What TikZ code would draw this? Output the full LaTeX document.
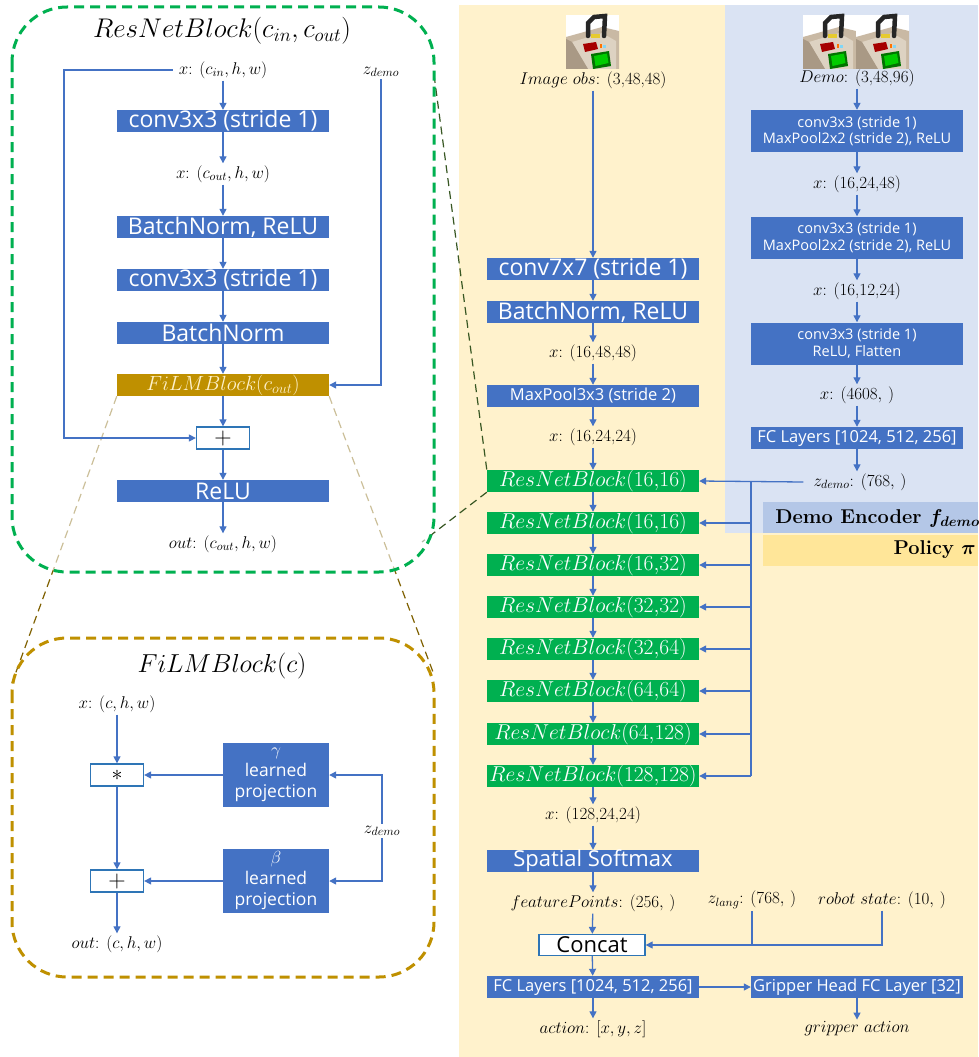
\documentclass[tikz,border=0pt]{standalone}
\usepackage{fix-cm}
\usepackage{bm}
\usepackage{fontspec}
\setsansfont{Open Sans}
\usetikzlibrary{arrows.meta,backgrounds}
\definecolor{bbox}{HTML}{4472C4}
\definecolor{gbox}{HTML}{00B050}
\definecolor{obox}{HTML}{BF9000}
\definecolor{beige}{HTML}{FFF2CC}
\definecolor{lblue}{HTML}{DAE3F3}
\definecolor{bandb}{HTML}{B4C7E7}
\definecolor{bandy}{HTML}{FFE699}
\definecolor{lineb}{HTML}{4472C4}
\definecolor{opbord}{HTML}{2E75B6}
\definecolor{dgreen}{HTML}{385723}
\definecolor{dbrown}{HTML}{7F6000}
\definecolor{filmtxt}{HTML}{FFF2CC}
\definecolor{tanA}{HTML}{C9B9A4}
\definecolor{tanB}{HTML}{DDD2C2}
\definecolor{tanC}{HTML}{A99985}
\newcommand{\robotthumb}[2]{%
\begin{scope}[shift={(#1,#2)}]
\fill[white] (0,0) rectangle (53,54);
\fill[tanA] (0,22) -- (36,12) -- (53,16) -- (53,54) -- (0,54) -- cycle;
\fill[tanB] (6,27) -- (36,18) -- (50,26) -- (50,54) -- (22,54) -- cycle;
\fill[tanC] (0,24) -- (6,27) -- (22,54) -- (0,54) -- cycle;
\fill[red!65!black] (17,29) -- (30,27) -- (32,34) -- (19,37) -- cycle;
\fill[green!45!black] (25,39) -- (43,36) -- (45,51) -- (27,54) -- cycle;
\fill[green!80!black] (28,41) -- (41,38.5) -- (42.5,48) -- (29.5,51) -- cycle;
\fill[orange!90!red] (34,29) rectangle (36,33);
\fill[cyan!50] (37,30) rectangle (40,33);
\draw[black!85,line width=4.5pt,line cap=round] (22,21) -- (22,8) -- (28,2) -- (39,1) -- (38,21);
\fill[yellow!60!brown] (25,19) rectangle (34,23);
\end{scope}}
\begin{document}
\begin{tikzpicture}[x=1pt,y=-1pt,
  bluebox/.style={fill=bbox,text=white,inner sep=0pt,minimum width=212pt,minimum height=22pt,font=\sffamily\fontsize{23}{23}\selectfont},
  midbox/.style={bluebox,font=\sffamily\fontsize{16.5}{16.5}\selectfont},
  twobox/.style={bluebox,minimum height=42pt,align=center,font=\sffamily\fontsize{14.5}{16.5}\selectfont},
  projbox/.style={fill=bbox,text=white,inner sep=0pt,minimum width=106pt,minimum height=64pt,align=center,font=\sffamily\fontsize{17.5}{21}\selectfont},
  rnb/.style={fill=gbox,text=white,inner sep=0pt,minimum width=212pt,minimum height=22pt,font=\fontsize{21.5}{21.5}\selectfont},
  filmbox/.style={fill=obox,text=filmtxt,inner sep=0pt,minimum width=212pt,minimum height=22pt,font=\fontsize{20.5}{20.5}\selectfont},
  lbl/.style={font=\fontsize{17}{17}\selectfont,inner sep=2pt},
  arr/.style={draw=lineb,line width=1.3pt,-{Triangle[length=7pt,width=7pt]}},
  ln/.style={draw=lineb,line width=1.3pt},
  opbox/.style={draw=opbord,line width=1.3pt,fill=white,minimum width=53pt,minimum height=22pt,inner sep=0pt},
  gdash/.style={draw=gbox,line width=3pt,dash pattern=on 10pt off 6pt,rounded corners=55pt},
  odash/.style={draw=obox,line width=3pt,dash pattern=on 10pt off 6pt,rounded corners=55pt},
  cdash/.style={line width=1.2pt,dash pattern=on 8pt off 5pt},
  bandtxt/.style={anchor=east,inner sep=0pt,font=\bfseries\fontsize{20}{20}\selectfont}
]
\useasboundingbox (0,0) rectangle (978,1057);

% ---------- ResNetBlock detail ----------
\draw[gdash] (12,7) rectangle (434,572);
\node[font=\fontsize{27}{27}\selectfont] (rtitle) at (222,31) {$ResNetBlock(c_{in},c_{out})$};
\node[lbl] (xin) at (223,70) {$x$: $(c_{in},h,w)$};
\node[lbl] (zd1) at (381,72) {$z_{demo}$};
\node[bluebox] (rc1) at (223,121) {conv3x3 (stride 1)};
\node[lbl] (xmid) at (223,174) {$x$: $(c_{out},h,w)$};
\node[bluebox] (rbn1) at (223,227) {BatchNorm, ReLU};
\node[bluebox] (rc2) at (223,280) {conv3x3 (stride 1)};
\node[bluebox] (rbn2) at (223,333) {BatchNorm};
\node[filmbox] (film) at (223,385) {$FiLMBlock(c_{out})$};
\node[opbox,font=\fontsize{24}{24}\selectfont] (plus) at (223,438) {$+$};
\node[bluebox] (relu) at (223,491) {ReLU};
\node[lbl] (rout) at (223,544) {$out$: $(c_{out},h,w)$};
\draw[arr] (xin) -- (rc1);
\draw[arr] (rc1) -- (xmid);
\draw[arr] (xmid) -- (rbn1);
\draw[arr] (rbn1) -- (rc2);
\draw[arr] (rc2) -- (rbn2);
\draw[arr] (rbn2) -- (film);
\draw[arr] (film) -- (plus);
\draw[arr] (plus) -- (relu);
\draw[arr] (relu) -- (rout);
\draw[arr] ([xshift=-4pt]xin.west) -- (xin.west -| 64,0) |- (plus.west);
\draw[arr] (zd1.south) -- (zd1.south |- film.east) -- (film.east);

% ---------- FiLMBlock detail ----------
\draw[odash] (12,638) rectangle (434,977);
\node[font=\fontsize{26}{26}\selectfont] (ftitle) at (222,666) {$FiLMBlock(c)$};
\node[lbl] (fx) at (117,704) {$x$: $(c,h,w)$};
\node[opbox,font=\fontsize{22}{22}\selectfont] (mul) at (117,775) {$*$};
\node[opbox,font=\fontsize{24}{24}\selectfont] (add) at (117,881) {$+$};
\node[lbl] (fout) at (117,944) {$out$: $(c,h,w)$};
\node[projbox] (gam) at (276,775) {$\gamma$\\learned\\projection};
\node[projbox] (bet) at (276,881) {$\beta$\\learned\\projection};
\node[lbl] (zd2) at (382,831) {$z_{demo}$};
\draw[arr] (fx) -- (mul);
\draw[arr] (mul) -- (add);
\draw[arr] (add) -- (fout);
\draw[arr] (gam) -- (mul);
\draw[arr] (bet) -- (add);
\draw[arr] (zd2.north) -- (zd2.north |- gam.east) -- (gam.east);
\draw[arr] (zd2.south) -- (zd2.south |- bet.east) -- (bet.east);

% ---------- Policy column ----------
\robotthumb{566}{15}
\node[lbl] (iobs) at (593,80) {$Image\ obs$: (3,48,48)};
\node[bluebox] (c7) at (593,269) {conv7x7 (stride 1)};
\node[bluebox] (bn) at (593,312) {BatchNorm, ReLU};
\node[lbl] (x1) at (593,353) {$x$: (16,48,48)};
\node[midbox] (mp) at (593,396) {MaxPool3x3 (stride 2)};
\node[lbl] (x2) at (593,437) {$x$: (16,24,24)};
\node[rnb] (rb1) at (593,481) {$ResNetBlock(16{,}16)$};
\node[rnb] (rb2) at (593,523) {$ResNetBlock(16{,}16)$};
\node[rnb] (rb3) at (593,565) {$ResNetBlock(16{,}32)$};
\node[rnb] (rb4) at (593,607) {$ResNetBlock(32{,}32)$};
\node[rnb] (rb5) at (593,649) {$ResNetBlock(32{,}64)$};
\node[rnb] (rb6) at (593,691) {$ResNetBlock(64{,}64)$};
\node[rnb] (rb7) at (593,734) {$ResNetBlock(64{,}128)$};
\node[rnb] (rb8) at (593,776) {$ResNetBlock(128{,}128)$};
\node[lbl] (x3) at (593,815) {$x$: (128,24,24)};
\node[bluebox,font=\sffamily\fontsize{22}{22}\selectfont] (ss) at (593,861) {Spatial Softmax};
\node[lbl] (fp) at (593,903) {$featurePoints$: $(256,\,)$};
\node[opbox,draw=opbord,minimum width=106pt,minimum height=21pt,font=\sffamily\fontsize{22}{22}\selectfont] (cc) at (592,945) {Concat};
\node[lbl] (zl) at (752,900) {$z_{lang}$: $(768,\,)$};
\node[lbl] (rs) at (882,900) {$robot\ state$: $(10,\,)$};
\node[midbox] (fc) at (593,987) {FC Layers [1024, 512, 256]};
\node[midbox] (gh) at (857,987) {Gripper Head FC Layer [32]};
\node[lbl] (act) at (593,1029) {$action$: $[x,y,z]$};
\node[lbl] (ga) at (857,1029) {$gripper\ action$};
\draw[arr] (iobs) -- (c7);
\draw[arr] (c7) -- (bn);
\draw[arr] (bn) -- (x1);
\draw[arr] (x1) -- (mp);
\draw[arr] (mp) -- (x2);
\draw[arr] (x2) -- (rb1);
\foreach \a/\b in {1/2,2/3,3/4,4/5,5/6,6/7,7/8} \draw[arr] (rb\a) -- (rb\b);
\draw[arr] (rb8) -- (x3);
\draw[arr] (x3) -- (ss);
\draw[arr] (ss) -- (fp);
\draw[arr] (fp) -- (cc);
\draw[arr] (cc) -- (fc);
\draw[arr] (fc) -- (act);
\draw[arr] (fc) -- (gh);
\draw[arr] (gh) -- (ga);
\draw[ln] (zl.south) -- (zl.south |- cc.east);
\draw[arr] (rs.south) -- (rs.south |- cc.east) -- (cc.east);

% ---------- Demo encoder column ----------
\robotthumb{803}{15}
\robotthumb{856}{15}
\node[lbl] (dm) at (857,78) {$Demo$: (3,48,96)};
\node[twobox] (d1) at (857,131) {conv3x3 (stride 1)\\MaxPool2x2 (stride 2), ReLU};
\node[lbl] (x4) at (857,184) {$x$: (16,24,48)};
\node[twobox] (d2) at (857,237.5) {conv3x3 (stride 1)\\MaxPool2x2 (stride 2), ReLU};
\node[lbl] (x5) at (857,291) {$x$: (16,12,24)};
\node[twobox] (d3) at (857,343.5) {conv3x3 (stride 1)\\ReLU, Flatten};
\node[lbl] (x6) at (857,395) {$x$: $(4608,\,)$};
\node[midbox] (dfc) at (857,438) {FC Layers [1024, 512, 256]};
\node[lbl] (zd3) at (860,482) {$z_{demo}$: $(768,\,)$};
\draw[arr] (dm) -- (d1);
\draw[arr] (d1) -- (x4);
\draw[arr] (x4) -- (d2);
\draw[arr] (d2) -- (x5);
\draw[arr] (x5) -- (d3);
\draw[arr] (d3) -- (x6);
\draw[arr] (x6) -- (dfc);
\draw[arr] (dfc) -- (dfc.south |- zd3.north);
\draw[arr] ([xshift=-8pt]zd3.west) -- (rb1.east);
\coordinate (bus) at (751,481);
\draw[ln] (bus) -- (bus |- rb8.east);
\foreach \k in {2,...,8} \draw[arr] (bus |- rb\k.east) -- (rb\k.east);

\node[bandtxt] (lenc) at (980,518) {Demo Encoder $\bm{f_{demo}}$};
\node[bandtxt] (lpol) at (976,550) {Policy $\bm{\pi}$};

\coordinate (gA) at (434,75);
\coordinate (gB) at (422,542);
\coordinate (fA) at (12,683);
\coordinate (fB) at (433,672);

\begin{scope}[on background layer]
\fill[beige] (459,5) rectangle (978,1057);
\fill[lblue] (725,5) rectangle (978,533);
\fill[bandb] (763,502) rectangle (978,533);
\fill[bandy] (763,535) rectangle (978,566);
\draw[cdash,dgreen] (gA) -- (rb1.north west);
\draw[cdash,dgreen] (rb1.south west) -- (gB);
\draw[cdash,dbrown] (film.south west) -- (fA);
\draw[cdash,dbrown] (film.south east) -- (fB);
\fill[white,opacity=0.6,rounded corners=55pt] (12,7) rectangle (434,572);
\end{scope}
\end{tikzpicture}
\end{document}
